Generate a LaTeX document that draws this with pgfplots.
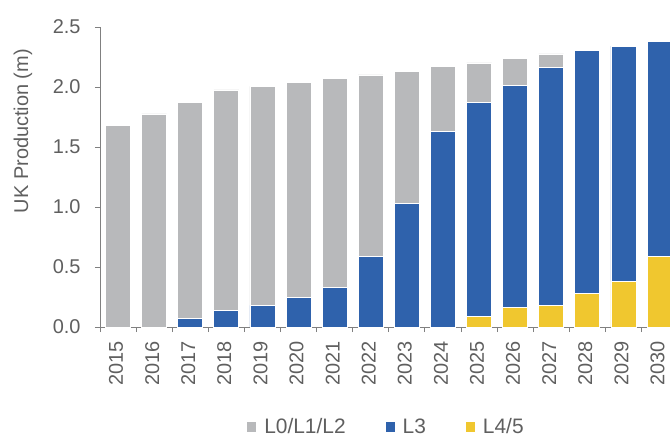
\documentclass[border=0pt]{standalone}
\usepackage{pgfplots}
\pgfplotsset{compat=1.18}
\usepackage{fontspec}
\setmainfont{Liberation Sans}
\definecolor{cgray}{HTML}{B8B9BB}
\definecolor{cblue}{HTML}{2F62AC}
\definecolor{cyellow}{HTML}{F0C72F}
\definecolor{ctext}{HTML}{5F5F5F}
\definecolor{caxis}{HTML}{808080}
\begin{document}
\begin{tikzpicture}
\begin{axis}[
  at={(0,0)}, anchor=south west,
  scale only axis, width=570bp, height=300bp,
  xmin=-0.5, xmax=15.29, ymin=0, ymax=2.5,
  ybar stacked, bar width=25bp,
  axis lines=left, axis line style={-, draw=caxis, line width=0.8pt},
  tick align=outside,
  xtick={0,...,15},
  xticklabels={2015,2016,2017,2018,2019,2020,2021,2022,2023,2024,2025,2026,2027,2028,2029,2030},
  major x tick style={draw=none},
  minor xtick={-0.5,0.5,...,15.5},
  minor tick length=5bp, major tick length=5bp,
  every tick/.style={draw=caxis, line width=0.8pt},
  ytick={0,0.5,...,2.5},
  /pgf/number format/assume math mode=true,
  /pgf/number format/fixed,
  /pgf/number format/fixed zerofill,
  /pgf/number format/precision=1,
  ticklabel style={font=\fontsize{20}{24}\selectfont, text=ctext},
  xticklabel style={rotate=90, anchor=east, xshift=-6bp, yshift=2bp},
  yticklabel style={anchor=east, xshift=-11bp},
  ylabel={UK Production (m)},
  ylabel style={font=\fontsize{20}{24}\selectfont, text=ctext, at={(axis description cs:-0.135,0.653)}, anchor=center, rotate=0},
  clip=true,
  reverse legend,
  legend columns=3,
  legend style={at={(0.5026,-0.333)}, anchor=center, draw=none, fill=none,
    font=\fontsize{21}{25}\selectfont, text=ctext,
    /tikz/every odd column/.append style={column sep=6bp},
    /tikz/every even column/.append style={column sep=38bp}},
  legend image code/.code={\fill[#1, draw=none] (0bp,-5bp) rectangle (9bp,5bp);},
  every axis plot/.append style={draw=white, line width=0.8pt},
]
\addplot[fill=cyellow] coordinates {(0,0) (1,0) (2,0) (3,0) (4,0) (5,0) (6,0) (7,0) (8,0) (9,0) (10,0.09) (11,0.16) (12,0.18) (13,0.28) (14,0.38) (15,0.59)};
\addplot[fill=cblue] coordinates {(0,0) (1,0) (2,0.075) (3,0.14) (4,0.18) (5,0.245) (6,0.33) (7,0.59) (8,1.03) (9,1.63) (10,1.78) (11,1.85) (12,1.98) (13,2.025) (14,1.96) (15,1.79)};
\addplot[fill=cgray] coordinates {(0,1.68) (1,1.775) (2,1.795) (3,1.835) (4,1.825) (5,1.795) (6,1.74) (7,1.51) (8,1.103) (9,0.54) (10,0.33) (11,0.226) (12,0.115) (13,0) (14,0) (15,0)};
\legend{L4/5,L3,L0/L1/L2}
\end{axis}
\pgfresetboundingbox
\useasboundingbox (-100bp,-112bp) rectangle (570bp,327bp);
\end{tikzpicture}
\end{document}
